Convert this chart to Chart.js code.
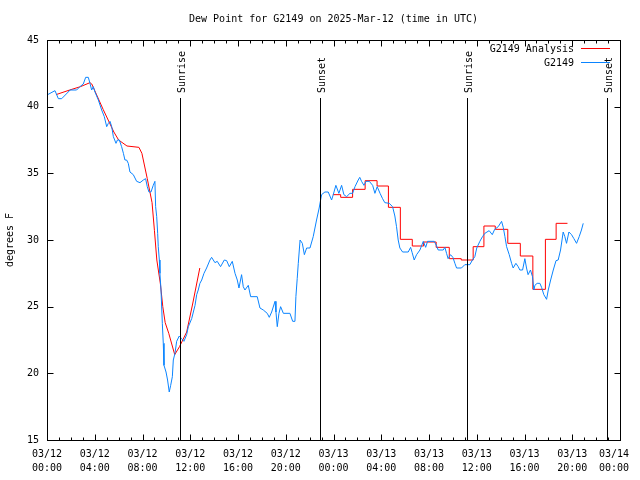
<!DOCTYPE html>
<html>
<head>
<meta charset="utf-8">
<title>Dew Point for G2149</title>
<script src="https://cdn.jsdelivr.net/npm/chart.js@4.4.1/dist/chart.umd.min.js"></script>
<style>
body { margin: 0; background: #fff; }
#wrap { width: 640px; height: 480px; }
</style>
</head>
<body>
<div id="wrap"><canvas id="dewChart" width="640" height="480"></canvas></div>
<script>
// all times are hours since 03/12 00:00 UTC

// G2149 observations
const obsHours = [0.05, 0.67, 0.95, 1.23, 1.78, 1.93, 2.48, 2.76, 3.04, 3.24, 3.46, 3.6, 3.74, 3.88, 4.02,
    4.3, 4.58, 4.8, 5.0, 5.14, 5.28, 5.42, 5.56, 5.78, 5.9, 6.06, 6.25, 6.4, 6.53, 6.67, 6.81, 6.95,
    7.23, 7.51, 7.79, 8.07, 8.26, 8.4, 8.54, 8.71, 8.9, 9.04, 9.1, 9.19, 9.27, 9.32, 9.41, 9.46, 9.55,
    9.66, 9.74, 9.8, 9.97, 10.1, 10.24, 10.36, 10.5, 10.58, 10.72, 10.86, 11.08, 11.28, 11.47, 11.7,
    11.84, 12.12, 12.4, 12.54, 12.67, 12.81, 12.96, 13.15, 13.37, 13.65, 13.79, 14.07, 14.26, 14.54,
    14.85, 15.05, 15.27, 15.52, 15.75, 15.94, 16.08, 16.3, 16.44, 16.58, 16.86, 17.06, 17.61, 17.84,
    18.12, 18.45, 18.62, 18.82, 19.1, 19.18, 19.29, 19.43, 19.57, 19.8, 20.35, 20.58, 20.77, 20.85,
    20.96, 21.05, 21.2, 21.39, 21.56, 21.75, 22.03, 22.3, 22.58, 22.8, 23.0, 23.28, 23.56, 23.84,
    23.98, 24.2, 24.45, 24.68, 24.87, 25.1, 25.38, 25.6, 25.8, 26.07, 26.2, 26.35, 26.55, 26.72, 27.0,
    27.28, 27.47, 27.66, 27.9, 28.11, 28.3, 28.67, 28.95, 29.14, 29.28, 29.42, 29.56, 29.79, 30.26,
    30.46, 30.59, 30.76, 30.96, 31.24, 31.52, 31.72, 31.88, 32.44, 32.64, 32.77, 33.19, 33.33, 33.47,
    33.6, 33.8, 34.0, 34.17, 34.31, 34.72, 35.0, 35.42, 35.64, 35.84, 36.0, 36.26, 36.48, 36.68,
    37.04, 37.3, 37.5, 37.8, 38.08, 38.22, 38.36, 38.5, 38.72, 38.92, 39.05, 39.28, 39.47, 39.61,
    39.84, 40.03, 40.17, 40.3, 40.5, 40.67, 40.79, 40.87, 41.06, 41.29, 41.43, 41.62, 41.85, 41.99,
    42.19, 42.41, 42.64, 42.82, 43.02, 43.24, 43.38, 43.52, 43.72, 43.94, 44.14, 44.36, 44.58,
    44.77, 44.92];
const obsValues = [40.9, 41.2, 40.6, 40.6, 41.1, 41.25, 41.25, 41.5, 41.7, 42.2, 42.2, 41.75, 41.25, 41.5, 41.1,
    40.5, 39.75, 39.25, 38.5, 38.75, 38.9, 38.5, 37.75, 37.25, 37.5, 37.5, 37.0, 36.5, 36.0, 36.0, 35.75, 35.1,
    34.9, 34.4, 34.3, 34.5, 34.6, 34.0, 33.6, 33.6, 34.1, 34.4, 32.5, 31.75, 30.5, 29.5, 28.5, 27.5, 26.25,
    23.75, 22.25, 20.6, 20.1, 19.5, 18.6, 19.1, 19.75, 21.0, 21.5, 22.4, 22.8, 22.6, 22.4, 22.9,
    23.5, 24.1, 25.1, 25.9, 26.25, 26.75, 27.0, 27.5, 27.9, 28.5, 28.7, 28.3, 28.4, 28.0,
    28.5, 28.45, 28.0, 28.4, 27.5, 27.0, 26.4, 27.4, 26.5, 26.25, 26.6, 25.75, 25.75, 24.9,
    24.75, 24.5, 24.2, 24.6, 25.4, 24.6, 23.5, 24.5, 25.0, 24.5, 24.5, 23.9, 23.9, 25.75,
    27.1, 28.25, 30.0, 29.75, 28.9, 29.4, 29.4, 30.25, 31.5, 32.4, 33.4, 33.6, 33.6, 33.0,
    33.4, 34.1, 33.5, 34.1, 33.4, 33.25, 33.5, 33.5, 34.0, 34.5, 34.7, 34.4, 34.1, 34.4, 34.4,
    34.1, 33.5, 34.0, 33.5, 33.1, 32.8, 32.75, 32.5, 31.8, 31.0, 30.0, 29.4, 29.1, 29.1,
    29.45, 29.05, 28.5, 28.9, 29.25, 29.9, 29.45, 29.9, 29.9, 29.55, 29.25, 29.25, 29.45, 29.0,
    28.6, 28.9, 28.7, 28.25, 27.9, 27.9, 28.15, 28.15, 28.5, 28.75, 29.4, 29.9, 30.25, 30.5,
    30.7, 30.4, 30.8, 31.0, 31.4, 30.95, 30.25, 29.5, 28.9, 28.25, 27.9, 28.25, 28.0, 27.75,
    27.75, 28.6, 27.9, 27.4, 27.75, 27.25, 26.25, 26.6, 26.75, 26.75, 26.45, 25.9, 25.55, 26.25,
    27.0, 27.75, 28.45, 28.5, 29.25, 30.6, 30.25, 29.75, 30.6, 30.4, 30.1, 29.75, 30.25,
    30.75, 31.25];

// G2149 Analysis, first day
const anaHoursA = [0.75, 1.9, 2.8, 3.6, 3.75, 4.7, 5.6, 6.0, 6.7, 7.7, 7.95, 8.4, 8.8, 9.0, 9.2, 9.5,
    9.7, 9.9, 10.2, 10.7, 11.1, 11.7, 12.2, 12.8];
const anaValuesA = [40.9, 41.25, 41.5, 41.8, 41.7, 39.8, 38.1, 37.5, 37.05, 36.95, 36.5, 34.6, 32.8, 30.7, 28.5, 26.7,
    25.0, 23.8, 23.0, 21.4, 22.0, 23.1, 25.2, 27.9];

// G2149 Analysis, second day (hourly steps)
const anaHoursB = [23.95, 24.6, 25.6, 26.65, 27.65, 28.6, 29.6, 30.6, 31.55, 32.6, 33.7, 34.7, 35.7,
    36.6, 37.55, 38.6, 39.65, 40.7, 41.75, 42.65, 43.6];
const anaValuesB = [33.4, 33.2, 33.8, 34.45, 34.05, 32.45, 30.05, 29.55, 29.85, 29.45, 28.6, 28.5, 29.5,
    31.05, 30.8, 29.75, 28.8, 26.3, 30.05, 31.25, 31.25];

// sunrise / sunset markers
const sunHours = [11.15, 22.85, 35.17, 46.9];
const sunLabels = ['Sunrise', 'Sunset', 'Sunrise', 'Sunset'];

// axis ticks
const xTickHours = [0, 4, 8, 12, 16, 20, 24, 28, 32, 36, 40, 44, 48];
const xTickDates = ['03/12', '03/12', '03/12', '03/12', '03/12', '03/12', '03/13', '03/13', '03/13', '03/13', '03/13', '03/13', '03/14'];
const xTickTimes = ['00:00', '04:00', '08:00', '12:00', '16:00', '20:00', '00:00', '04:00', '08:00', '12:00', '16:00', '20:00', '00:00'];
const yTicks = [15, 20, 25, 30, 35, 40, 45];

const RED = '#ff0000';
const BLUE = '#0a84ff';
const MONO = "'DejaVu Sans Mono', 'Liberation Mono', monospace";

function toPoints(xs, ys) {
    return xs.map((h, i) => ({ x: h, y: ys[i] }));
}

// frame, inward ticks, sun markers, title, legend
const framePlugin = {
    id: 'frame',
    afterDatasetsDraw(chart) {
        const ctx = chart.ctx;
        const a = chart.chartArea;
        const x = chart.scales.x;
        const y = chart.scales.y;
        const L = Math.round(a.left) + 0.5, R = Math.round(a.right) + 0.5;
        const T = Math.round(a.top) + 0.5, B = Math.round(a.bottom) + 0.5;

        ctx.save();
        ctx.strokeStyle = '#000';
        ctx.lineWidth = 1;
        ctx.strokeRect(L, T, R - L, B - T);

        ctx.beginPath();
        for (let h = 0; h <= 48; h++) {
            const px = Math.round(x.getPixelForValue(h)) + 0.5;
            const len = h % 4 === 0 ? 6 : 3;
            ctx.moveTo(px, B); ctx.lineTo(px, B - len);
            ctx.moveTo(px, T); ctx.lineTo(px, T + len);
        }
        yTicks.forEach(v => {
            const py = Math.round(y.getPixelForValue(v)) + 0.5;
            ctx.moveTo(L, py); ctx.lineTo(L + 6, py);
            ctx.moveTo(R, py); ctx.lineTo(R - 6, py);
        });
        ctx.stroke();

        ctx.fillStyle = '#000';
        ctx.font = '10px ' + MONO;

        // sunrise / sunset lines
        sunHours.forEach((h, i) => {
            const px = Math.round(x.getPixelForValue(h)) + 0.5;
            ctx.beginPath();
            ctx.moveTo(px, 98);
            ctx.lineTo(px, B);
            ctx.stroke();
            ctx.save();
            ctx.translate(px + 1.5, 93);
            ctx.rotate(-Math.PI / 2);
            ctx.textAlign = 'left';
            ctx.textBaseline = 'middle';
            ctx.fillText(sunLabels[i], 0, 0);
            ctx.restore();
        });

        // title
        ctx.textAlign = 'center';
        ctx.textBaseline = 'middle';
        ctx.fillText('Dew Point for G2149 on 2025-Mar-12 (time in UTC)', (a.left + a.right) / 2, 19);

        // y axis title
        ctx.save();
        ctx.translate(10, 240);
        ctx.rotate(-Math.PI / 2);
        ctx.fillText('degrees F', 0, 0);
        ctx.restore();

        // legend
        const items = [
            { label: chart.data.datasets[1].label, color: RED, y: 49 },
            { label: chart.data.datasets[0].label, color: BLUE, y: 63 }
        ];
        items.forEach(it => {
            ctx.fillStyle = '#000';
            ctx.textAlign = 'right';
            ctx.fillText(it.label, 574, it.y);
            ctx.strokeStyle = it.color;
            ctx.beginPath();
            ctx.moveTo(581, it.y - 0.5);
            ctx.lineTo(610, it.y - 0.5);
            ctx.stroke();
        });
        ctx.restore();
    }
};

Chart.defaults.font.family = MONO;
Chart.defaults.font.size = 10;
Chart.defaults.color = '#000';

new Chart(document.getElementById('dewChart').getContext('2d'), {
    type: 'line',
    data: {
        datasets: [{
            label: 'G2149',
            data: toPoints(obsHours, obsValues),
            borderColor: BLUE,
            borderWidth: 1,
            pointRadius: 0,
            tension: 0
        }, {
            label: 'G2149 Analysis',
            data: toPoints(anaHoursA, anaValuesA),
            borderColor: RED,
            borderWidth: 1,
            pointRadius: 0,
            tension: 0
        }, {
            label: 'G2149 Analysis',
            data: toPoints(anaHoursB, anaValuesB),
            borderColor: RED,
            borderWidth: 1,
            pointRadius: 0,
            stepped: true
        }]
    },
    options: {
        responsive: false,
        animation: false,
        events: [],
        layout: { padding: { top: 40, right: 20, bottom: 0, left: 0 } },
        plugins: {
            legend: { display: false },
            title: { display: false },
            tooltip: { enabled: false }
        },
        scales: {
            x: {
                type: 'linear',
                min: 0,
                max: 48,
                grid: { display: false, drawTicks: false },
                border: { display: false },
                afterBuildTicks: scale => { scale.ticks = xTickHours.map(v => ({ value: v })); },
                afterFit: scale => {
                    scale.height = 40;
                    scale.paddingLeft = 0;
                    scale.paddingRight = 0;
                },
                ticks: {
                    autoSkip: false,
                    maxRotation: 0,
                    padding: 7,
                    font: { size: 10, lineHeight: 1.4 },
                    // last label is pulled a little to the left, as in the original
                    callback: (value, index) => index === xTickHours.length - 1
                        ? [xTickDates[index] + '  ', xTickTimes[index] + '  ']
                        : [xTickDates[index], xTickTimes[index]]
                }
            },
            y: {
                min: 15,
                max: 45,
                grid: { display: false, drawTicks: false },
                border: { display: false },
                afterBuildTicks: scale => { scale.ticks = yTicks.map(v => ({ value: v })); },
                afterFit: scale => { scale.width = 47; },
                ticks: {
                    padding: 8,
                    font: { size: 10 },
                    callback: value => String(value)
                }
            }
        }
    },
    plugins: [framePlugin]
});
</script>
</body>
</html>
